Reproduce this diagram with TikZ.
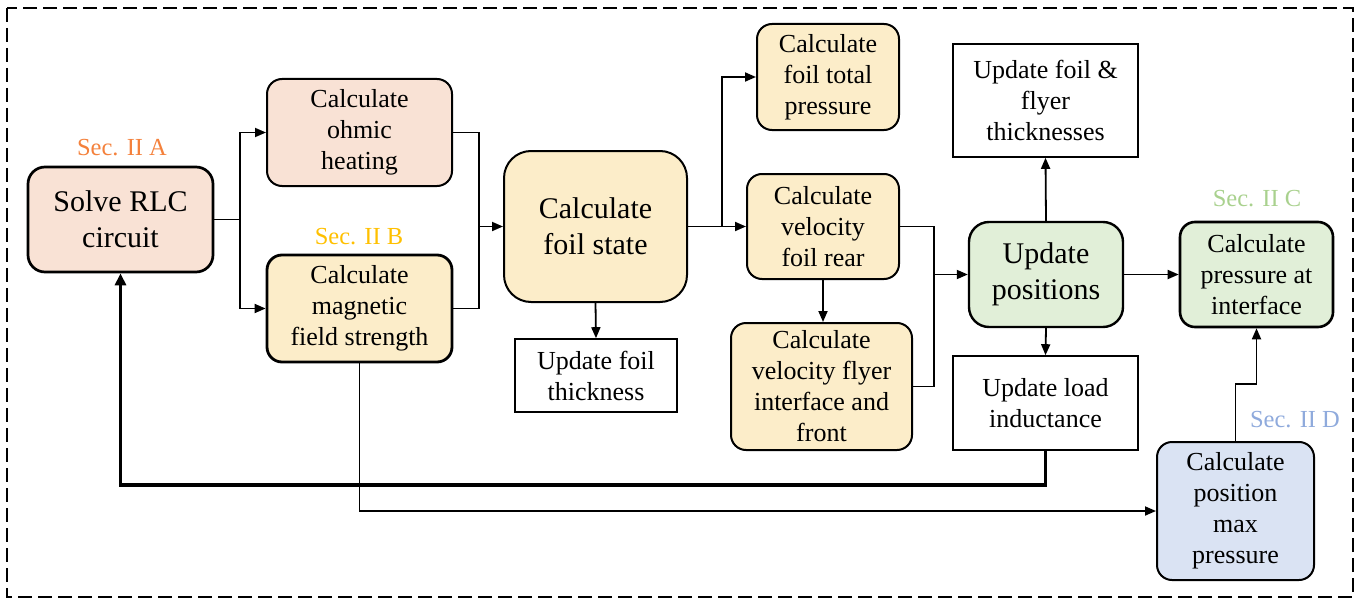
\documentclass[tikz,border=0pt]{standalone}
\usepackage{fontspec}
\setmainfont{Liberation Serif}
\usetikzlibrary{arrows.meta}
\definecolor{peach}{HTML}{F9E2D5}
\definecolor{lyellow}{HTML}{FCEDC9}
\definecolor{lgreen}{HTML}{E1EFD8}
\definecolor{lblue}{HTML}{DAE3F3}
\definecolor{secA}{HTML}{F4813C}
\definecolor{secB}{HTML}{FFC000}
\definecolor{secC}{HTML}{A9D18E}
\definecolor{secD}{HTML}{8FAADC}
\tikzset{
  base/.style={draw=black, align=center, inner sep=0pt, font=\fontsize{26}{31}\selectfont},
  rbox/.style={base, rounded corners=15pt, line width=2pt},
  wbox/.style={base, rectangle, line width=1.6pt, fill=white},
  bigtext/.style={font=\fontsize{30}{36}\selectfont},
  sec/.style={font=\fontsize{24.5}{30}\selectfont, inner sep=0pt},
  conn/.style={line width=1.8pt, -{Triangle[length=11pt,width=9pt]}},
  line/.style={line width=1.8pt},
  feedback/.style={line width=3.6pt, -{Triangle[length=12pt,width=11pt]}},
}
\begin{document}
\begin{tikzpicture}[x=1pt,y=-1pt]
\useasboundingbox (0,0) rectangle (1356,599);
\draw[line width=2pt, dash pattern=on 14pt off 6pt] (7,8) rectangle (1353,597);

% nodes
\node[rbox, fill=peach, line width=2.7pt, rounded corners=17pt, bigtext, minimum width=185pt, minimum height=105pt] (rlc) at (120.5,219.5) {Solve RLC\\circuit};
\node[rbox, fill=peach, minimum width=185pt, minimum height=107pt] (ohm) at (359.5,132.5) {Calculate\\ohmic\\heating};
\node[rbox, fill=lyellow, line width=2.8pt, minimum width=185pt, minimum height=107pt] (mag) at (359.5,308.5) {Calculate\\magnetic\\field strength};
\node[rbox, fill=lyellow, rounded corners=27pt, bigtext, minimum width=183pt, minimum height=151pt] (foil) at (595.5,226.5) {Calculate\\foil state};
\node[wbox, minimum width=162pt, minimum height=73pt] (thick) at (596,375.5) {Update foil\\thickness};
\node[rbox, fill=lyellow, minimum width=142pt, minimum height=106pt] (total) at (828,77) {Calculate\\foil total\\pressure};
\node[rbox, fill=lyellow, minimum width=152pt, minimum height=105pt] (rear) at (823,226.5) {Calculate\\velocity\\foil rear};
\node[rbox, fill=lyellow, minimum width=181pt, minimum height=127pt] (flyer) at (821.5,386.5) {Calculate\\velocity flyer\\interface and\\front};
\node[rbox, fill=lgreen, line width=2.4pt, rounded corners=20pt, bigtext, minimum width=154pt, minimum height=105pt] (pos) at (1046,274.5) {Update\\positions};
\node[wbox, minimum width=185pt, minimum height=113pt] (flthk) at (1045.5,100.5) {Update foil \&\\flyer\\thicknesses};
\node[wbox, minimum width=185pt, minimum height=94pt] (load) at (1045.5,403) {Update load\\inductance};
\node[rbox, fill=lgreen, line width=2.6pt, minimum width=153pt, minimum height=105pt] (press) at (1256.5,274.5) {Calculate\\pressure at\\interface};
\node[rbox, fill=lblue, minimum width=157pt, minimum height=138pt] (maxp) at (1235.5,511) {Calculate\\position\\max\\pressure};

% section labels
\node[sec, text=secA] (la) at (122,148) {Sec. II A};
\node[sec, text=secB] (lb) at (359,237) {Sec. II B};
\node[sec, text=secC] (lc) at (1257,199) {Sec. II C};
\node[sec, text=secD] (ld) at (1295,420) {Sec. II D};

% junctions
\coordinate (s1) at (240,219.5);
\coordinate (j1) at (479,226.5);
\coordinate (j2) at (722,226.5);
\coordinate (j3) at (934,274.5);

% connectors
\draw[line] (rlc.east) -- (s1);
\draw[conn] (s1) |- (ohm.west);
\draw[conn] (s1) |- (mag.west);
\draw[line] (ohm.east) -| (j1);
\draw[line] (mag.east) -| (j1);
\draw[conn] (j1) -- (foil.west);
\draw[conn] (foil.south) -- (thick.north);
\draw[line] (foil.east) -- (j2);
\draw[conn] (j2) |- (total.west);
\draw[conn] (j2) -- (rear.west);
\draw[conn] (rear.south) -- (rear.south |- flyer.north);
\draw[line] (rear.east) -| (j3);
\draw[line] (flyer.east) -| (j3);
\draw[conn] (j3) -- (pos.west);
\draw[conn] (pos.north) -- (flthk.south);
\draw[conn] (pos.south) -- (load.north);
\draw[conn] (pos.east) -- (press.west);
\draw[feedback] (load.south) -- ++(0,34) -| (rlc.south);
\draw[conn] (mag.south) |- (maxp.west);
\draw[conn] (maxp.north) -- ++(0,-57) -| (press.south);
\end{tikzpicture}
\end{document}
